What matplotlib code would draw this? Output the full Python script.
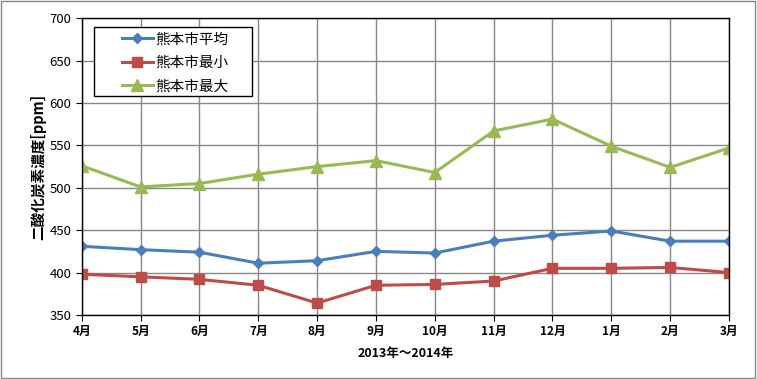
import matplotlib
matplotlib.use('Agg')
import matplotlib.pyplot as plt
from matplotlib.patches import Rectangle

plt.rcParams['font.family'] = ['Noto Sans CJK JP', 'DejaVu Sans']

months = ['4月', '5月', '6月', '7月', '8月', '9月', '10月', '11月', '12月', '1月', '2月', '3月']
avg_vals = [431, 427, 424, 411, 414, 425, 423, 437, 444, 449, 437, 437]
min_vals = [398, 395, 392, 385, 364, 385, 386, 390, 405, 405, 406, 400]
max_vals = [526, 501, 505, 516, 525, 532, 518, 567, 581, 549, 524, 547]

fig = plt.figure(figsize=(7.57, 3.79), dpi=100)
fig.patches.append(Rectangle((0.001, 0.002), 0.997, 0.995, transform=fig.transFigure,
                             fill=False, edgecolor='#888888', linewidth=1))
ax = fig.add_axes([0.108, 0.169, 0.855, 0.783])

x = list(range(len(months)))
ax.plot(x, avg_vals, color='#4a7ebb', marker='D', markersize=5.5, linewidth=2.2, label='熊本市平均')
ax.plot(x, min_vals, color='#be4b48', marker='s', markersize=7, linewidth=2.2, label='熊本市最小')
ax.plot(x, max_vals, color='#98b954', marker='^', markersize=8, linewidth=2.2, label='熊本市最大')

ax.set_xlim(0, 11)
ax.set_ylim(350, 700)
ax.set_yticks(range(350, 701, 50))
ax.set_xticks(x)
ax.set_xticklabels(months, fontweight='bold', fontsize=8.5)
ax.tick_params(axis='y', labelsize=9.5, direction='out', length=4)
ax.tick_params(axis='x', direction='out', length=4)
ax.grid(True, color='#888888', linewidth=1)
ax.set_axisbelow(True)
for s in ax.spines.values():
    s.set_color('black')
    s.set_linewidth(1)

ax.set_xlabel('2013年～2014年', fontweight='bold', fontsize=9, labelpad=6)
ax.set_ylabel('二酸化炭素濃度[ppm]', fontweight='bold', fontsize=10.5, labelpad=2)

# legend box is wider than the entries, so draw the frame separately
ax.add_patch(Rectangle((0.0185, 0.737), 0.2445, 0.233, transform=ax.transAxes,
                       facecolor='white', edgecolor='black', linewidth=1, zorder=4))
leg = ax.legend(loc='upper left', bbox_to_anchor=(0.062, 0.952), fontsize=10.5,
                frameon=False, handlelength=2.1, borderpad=0, borderaxespad=0,
                labelspacing=0.65, handletextpad=0.2)
leg.set_zorder(5)

fig.savefig('out.png', dpi=100)
